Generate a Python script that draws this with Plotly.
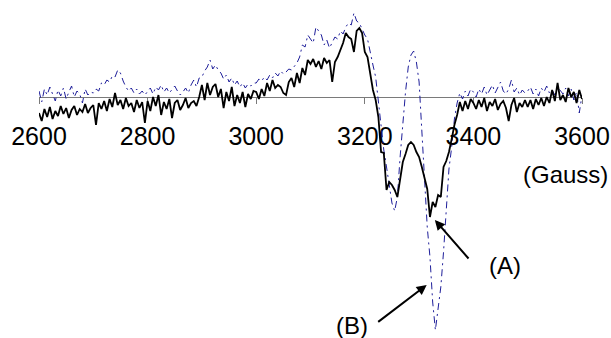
import plotly.graph_objects as go

# Magnetic field (Gauss), sampled every 5 G from 2600 to 3600
field_start = 2600
field_step = 5

# Spectrum (A): black solid line (arbitrary intensity units, 0 = baseline)
spec_a = (
    [-16, -24, -12, -20, -10, -22, -14, -19, -9, -17, -11, -21, -13, -9, -18, -12, -15, -7, -16, -11]
    + [-8, -28, -6, -12, -4, -14, -2, -10, 4, -8, -3, -12, -1, -9, -6, -15, -3, -11, -5, -26]
    + [-4, -14, 0, -9, 2, -18, -5, -12, -2, -21, -6, -3, -13, -8, -1, -11, -6, -4, -9, 0]
    + [12, -3, 14, 2, 10, 13, 0, 8, -11, 5, -4, 10, -9, 2, -6, 5, -10, 3, -2, 6]
    + [5, -2, 8, 1, 14, 6, 17, 9, 12, 10, 4, 2, 15, 19, 10, 24, 14, 29, 22, 37]
    + [33, 38, 30, 36, 28, 39, 34, 37, 15, 35, 40, 47, 54, 64, 60, 58, 45, 66, 69, 64]
    + [45, 40, 25, 7, -3, -20, -55, -56, -93, -85, -88, -93, -100, -82, -65, -57, -48, -45, -48, -55]
    + [-60, -70, -80, -92, -120, -105, -110, -98, -100, -70, -64, -55, -42, -28, -18, -5, -14, -4, -12, -2]
    + [-6, -12, -3, -10, -1, -14, -5, -9, -2, -13, -7, -4, -11, -24, -8, -1, -15, -6, -10, -3]
    + [-10, -3, -12, -2, -8, -1, -9, 0, -6, 7, -4, 14, -3, 2, -5, 9, 0, 5, -6, 7, -2]
)

# Spectrum (B): blue dash-dot line
spec_b = (
    [6, -5, 8, 2, 10, 3, -4, 7, 1, 9, -2, 5, 11, 0, 6, 3, -6, 8, 2, 5]
    + [4, 8, 6, 14, 12, 17, 15, 21, 20, 27, 24, 16, 10, 6, 9, 4, 8, 3, 6, 2]
    + [6, 9, 3, 10, 7, 12, 5, 9, 4, 8, 11, 6, 2, 5, 9, 4, 12, 17, 10, 19]
    + [20, 26, 30, 37, 28, 32, 27, 24, 18, 22, 15, 19, 12, 16, 10, 14, 9, 13, 11, 14]
    + [14, 18, 16, 20, 17, 22, 19, 24, 21, 26, 23, 25, 28, 27, 31, 34, 40, 52, 50, 62]
    + [58, 54, 70, 66, 62, 52, 57, 49, 55, 60, 58, 66, 63, 70, 74, 72, 84, 76, 74, 68]
    + [62, 58, 44, 32, 20, -5, -30, -53, -70, -88, -106, -114, -100, -60, -25, 5, 30, 42, 46, 35]
    + [15, -30, -85, -130, -160, -205, -233, -212, -190, -155, -110, -72, -50, -22, -6, 4, -2, 6, 1, 8]
    + [5, 0, 8, 3, 10, 2, 7, 12, 4, 9, 15, 6, 3, 8, 17, 5, 9, 2, 7, 4]
    + [6, 10, 3, 8, 1, 9, 5, 11, 4, 7, 2, 10, 6, 3, 9, 1, 8, -3, 5, -16, 2]
)

tick_vals = [2600, 2800, 3000, 3200, 3400, 3600]
tick_text = ["2600", "2800", "3000", "3200", "3400", "3600"]

field = [field_start + field_step * i for i in range(len(spec_a))]

FONT = "Arial, Liberation Sans, sans-serif"
W, H = 611, 338

fig = go.Figure()
fig.add_trace(go.Scatter(
    x=field, y=spec_b, mode="lines",
    line=dict(color="#1e1e9a", width=1, dash="7px,4px,2px,4px"),
    showlegend=False,
))
fig.add_trace(go.Scatter(
    x=field, y=spec_a, mode="lines",
    line=dict(color="black", width=1.8),
    showlegend=False,
))

ymin, ymax = -241, 97
fig.update_layout(
    width=W, height=H, autosize=False,
    margin=dict(l=0, r=0, t=0, b=0, pad=0),
    paper_bgcolor="white", plot_bgcolor="white",
    font=dict(family=FONT, size=25, color="black"),
    xaxis=dict(
        range=[2600, 3600], domain=[39 / W, 582 / W],
        anchor="free", position=(0 - ymin) / (ymax - ymin),
        automargin=False,
        showline=True, linecolor="#7a7a7a", linewidth=1,
        ticks="outside", ticklen=6, tickcolor="#7a7a7a", tickwidth=1,
        tickvals=tick_vals, ticktext=tick_text,
        tickfont=dict(family=FONT, size=25, color="black"),
        ticklabelstandoff=11,
        showgrid=False, zeroline=False, layer="below traces",
    ),
    yaxis=dict(range=[ymin, ymax], visible=False, showgrid=False, zeroline=False,
               automargin=False),
    annotations=[
        dict(x=3329, y=-123, xref="x", yref="y", text="", showarrow=True,
             ax=35, ay=40, arrowhead=2, arrowsize=1, arrowwidth=2, arrowcolor="black"),
        dict(x=3314, y=-188, xref="x", yref="y", text="", showarrow=True,
             ax=-50, ay=38, arrowhead=2, arrowsize=1, arrowwidth=2, arrowcolor="black"),
        dict(x=3458, y=-168, xref="x", yref="y", text="(A)", showarrow=False,
             xanchor="center", yanchor="middle",
             font=dict(family=FONT, size=24, color="black")),
        dict(x=3176, y=-228, xref="x", yref="y", text="(B)", showarrow=False,
             xanchor="center", yanchor="middle",
             font=dict(family=FONT, size=24, color="black")),
        dict(x=565 / W, y=1 - 174 / H, xref="paper", yref="paper",
             text="(Gauss)", showarrow=False, xanchor="center", yanchor="middle",
             font=dict(family=FONT, size=24, color="black")),
    ],
)

fig.write_html(
    "out.html",
    config={"displayModeBar": False, "staticPlot": True},
    post_script="document.body.style.margin='0';document.body.style.overflow='hidden';",
)
